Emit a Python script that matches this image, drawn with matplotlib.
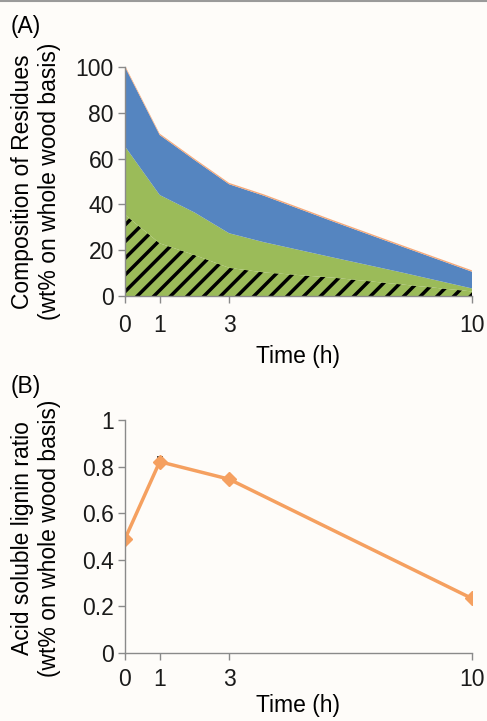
import numpy as np
import matplotlib
matplotlib.use('Agg')
import matplotlib.pyplot as plt
from matplotlib.lines import Line2D

plt.rcParams['font.family'] = ['Liberation Sans', 'DejaVu Sans']
plt.rcParams['hatch.linewidth'] = 2.5

# (A) composition of residues (wt% on whole wood basis)
time_a = [0, 1, 2, 3, 4, 6, 8, 10]
hatched = [35.5, 23.0, 17.9, 12.3, 10.3, 8.0, 5.0, 2.0]
green = [29.8, 21.1, 18.6, 15.1, 13.2, 8.8, 5.2, 1.3]
blue = [34.7, 26.2, 22.9, 21.4, 20.3, 15.7, 11.3, 7.3]
orange = [0.6, 0.6, 0.6, 0.6, 0.6, 0.6, 0.6, 0.6]

# (B) acid soluble lignin ratio
time_b = [0, 1, 3, 10]
asl = [0.49, 0.821, 0.746, 0.234]
asl_err = [0.004, 0.022, 0.012, 0.004]

xticks = [0, 1, 3, 10]
bg = '#fefcf9'
axis_col = '#8a8a8a'
fs = 16.5

fig = plt.figure(figsize=(4.87, 7.21), dpi=100, facecolor=bg)


def style_axes(ax, xpad):
    ax.set_facecolor(bg)
    for s in ['top', 'right']:
        ax.spines[s].set_visible(False)
    for s in ['left', 'bottom']:
        ax.spines[s].set_color(axis_col)
        ax.spines[s].set_linewidth(1.0)
    ax.tick_params(direction='out', length=5, width=1.0, color=axis_col,
                   labelsize=fs, labelcolor='#1a1a1a')
    ax.tick_params(axis='x', pad=xpad)
    ax.tick_params(axis='y', pad=3)
    ax.set_xlim(0, 10)
    ax.set_xticks(xticks)
    ax.set_xticklabels([str(t) for t in xticks])


# panel A
axA = fig.add_axes([125 / 487, 1 - 296 / 721, 347 / 487, 229 / 721])
style_axes(axA, 8)
polys = axA.stackplot(time_a, hatched, green, blue, orange,
                      colors=['#9bbb59', '#9bbb59', '#5585c0', '#f6a878'],
                      linewidth=0)
polys[0].set_hatch('//')
polys[0].set_edgecolor('black')
polys[0].set_linewidth(0)
axA.set_ylim(0, 100)
axA.set_yticks([0, 20, 40, 60, 80, 100])
axA.set_xlabel('Time (h)', fontsize=fs, labelpad=6)

fig.text(36 / 487, 1 - 181.5 / 721,
         'Composition of Residues\n(wt% on whole wood basis)',
         rotation=90, ha='center', va='center', fontsize=fs, linespacing=1.2)
fig.text(11 / 487, 1 - 26 / 721, '(A)', ha='left', va='center', fontsize=fs)

# panel B
axB = fig.add_axes([125 / 487, 1 - 653 / 721, 347 / 487, 233 / 721])
style_axes(axB, 6)
axB.errorbar(time_b, asl, yerr=asl_err, color='#f5a060', lw=2.5,
             marker='D', markersize=7, ecolor='#222222', elinewidth=1.2,
             capsize=2.5, capthick=1.2)
axB.set_ylim(0, 1)
axB.set_yticks([0, 0.2, 0.4, 0.6, 0.8, 1])
axB.set_yticklabels(['0', '0.2', '0.4', '0.6', '0.8', '1'])
axB.set_xlabel('Time (h)', fontsize=fs, labelpad=2)

fig.text(36 / 487, 1 - 538 / 721,
         'Acid soluble lignin ratio\n(wt% on whole wood basis)',
         rotation=90, ha='center', va='center', fontsize=fs, linespacing=1.2)
fig.text(11 / 487, 1 - 386 / 721, '(B)', ha='left', va='center', fontsize=fs)

# thin grey border line at the top
fig.add_artist(Line2D([0, 1], [1 - 1 / 721, 1 - 1 / 721],
                      transform=fig.transFigure, color='#9a9a9a', lw=1.5))

fig.savefig('out.png', dpi=100, facecolor=bg)
